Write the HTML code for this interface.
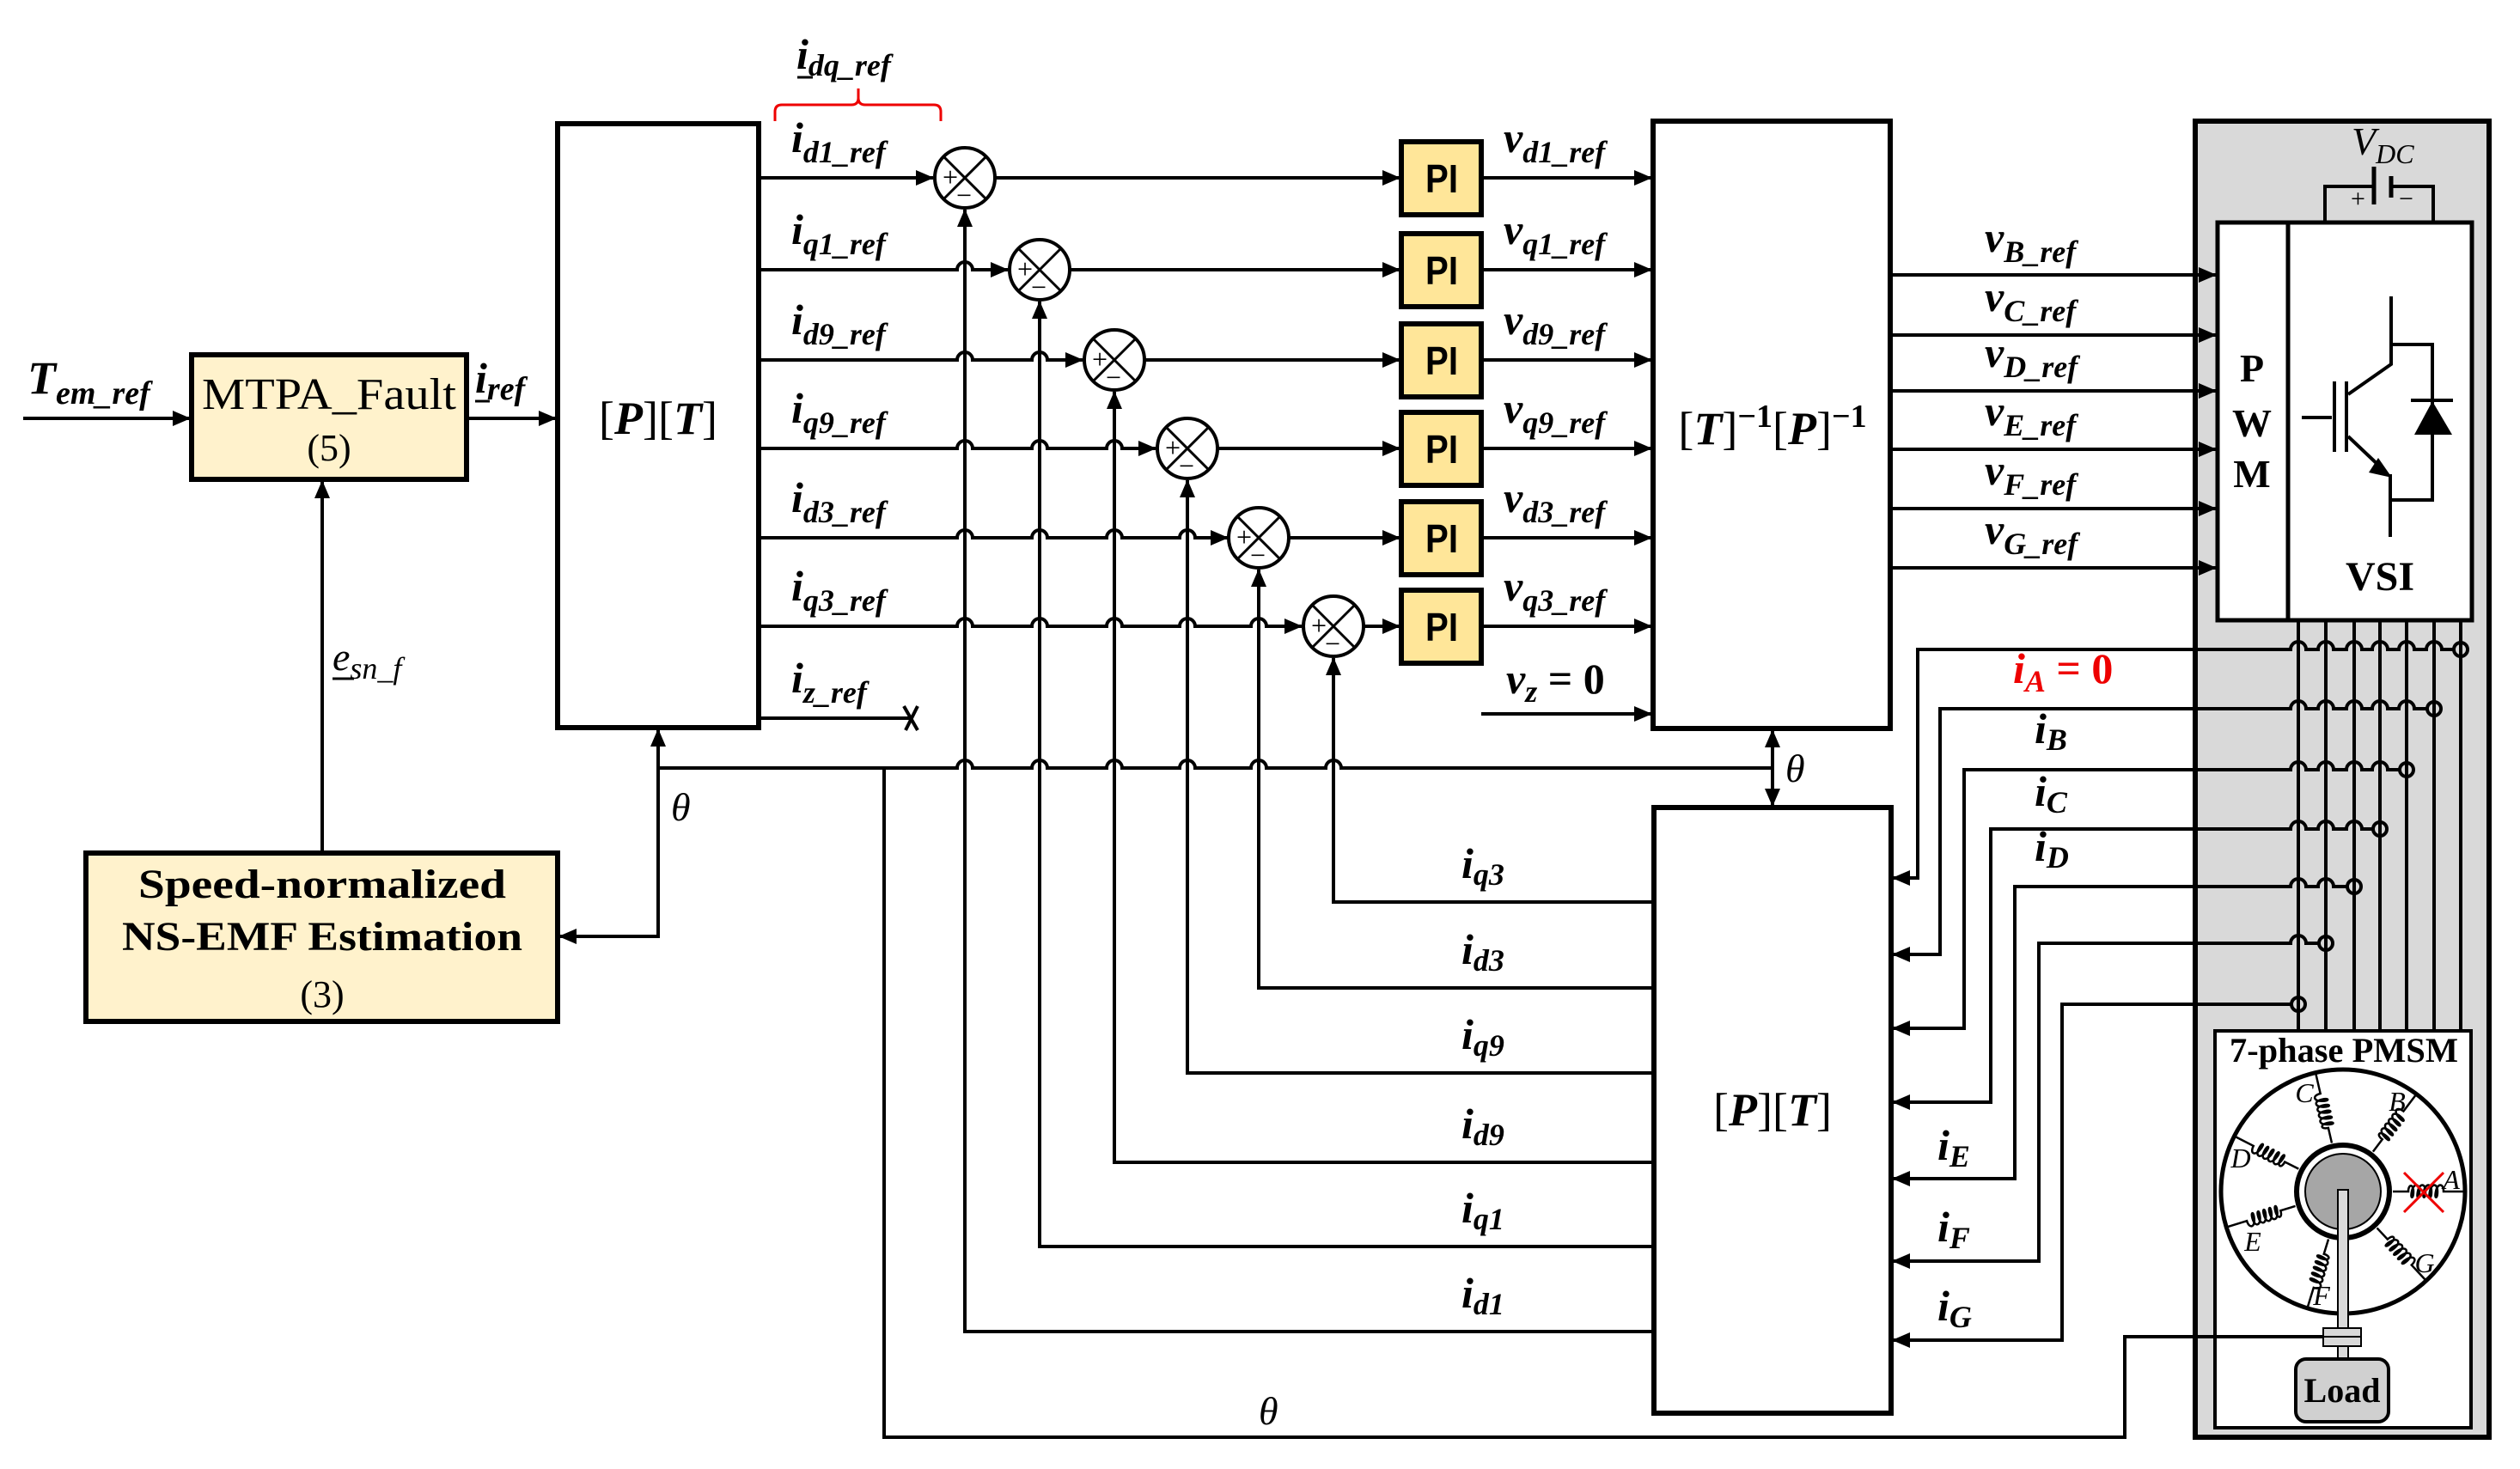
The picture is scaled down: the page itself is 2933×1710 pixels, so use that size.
<!DOCTYPE html>
<html><head><meta charset="utf-8"><style>
html,body{margin:0;padding:0;background:#fff}
svg{display:block}
.b{font-family:"Liberation Serif",serif;font-weight:bold;font-style:italic}
.r{font-family:"Liberation Serif",serif}
.ln{stroke:#000;stroke-width:4;fill:none}
.bx{stroke:#000;stroke-width:6}
.s{font-size:36px}
</style></head><body>
<svg width="2933" height="1710" viewBox="0 0 2933 1710" xmlns="http://www.w3.org/2000/svg">
<defs>
<marker id="a" markerUnits="userSpaceOnUse" markerWidth="22" markerHeight="18" refX="20" refY="9" orient="auto"><path d="M0,0 L21,9 L0,18z" fill="#000"/></marker>
<g id="coil"><path d="M58,0 H76 c0,-9 6,-9 6,0 c0,9 -4,9 -2,0 c2,-10 9,-10 9,0 c0,9 -4,9 -2,0 c2,-10 9,-10 9,0 c0,9 -4,9 -2,0 c2,-10 9,-10 9,0 c0,9 -4,9 -2,0 c2,-10 9,-10 9,0 c0,9 -4,9 -2,0 c2,-10 9,-10 9,0 H142" fill="none" stroke="#000" stroke-width="2.5"/></g>
<g id="sum"><circle r="35" fill="#fff" stroke="#000" stroke-width="4"/><path d="M-25,-25 L25,25 M25,-25 L-25,25" stroke="#000" stroke-width="3"/><text x="-26" y="10" class="r" font-size="32">+</text><text x="-10" y="31" class="r" font-size="32">−</text></g>
</defs>

<rect x="2555" y="141" width="342" height="1532" fill="#d9d9d9" stroke="#000" stroke-width="6"/>

<rect x="223" y="413" width="320" height="145" fill="#fff2cc" class="bx"/>
<text x="383" y="476" class="r" font-size="52" text-anchor="middle" textLength="296" lengthAdjust="spacingAndGlyphs">MTPA_Fault</text>
<text x="383" y="536" class="r" font-size="44" text-anchor="middle">(5)</text>
<rect x="100" y="993" width="549" height="196" fill="#fff2cc" class="bx"/>
<text x="375" y="1045" class="r" font-weight="bold" font-size="48" text-anchor="middle" textLength="428" lengthAdjust="spacingAndGlyphs">Speed-normalized</text>
<text x="375" y="1106" class="r" font-weight="bold" font-size="48" text-anchor="middle" textLength="466" lengthAdjust="spacingAndGlyphs">NS-EMF Estimation</text>
<text x="375" y="1172" class="r" font-size="44" text-anchor="middle">(3)</text>

<rect x="649" y="144" width="234" height="703" fill="#fff" class="bx"/>
<text x="766" y="505" class="r" font-size="54" text-anchor="middle">[<tspan class="b">P</tspan>][<tspan class="b">T</tspan>]</text>

<rect x="1924" y="141" width="276" height="707" fill="#fff" class="bx"/>
<text x="2063" y="517" class="r" font-size="54" text-anchor="middle">[<tspan class="b">T</tspan>]<tspan dy="-20" font-size="38" font-weight="bold">−1</tspan><tspan dy="20">[</tspan><tspan class="b">P</tspan>]<tspan dy="-20" font-size="38" font-weight="bold">−1</tspan></text>

<rect x="1925" y="940" width="276" height="705" fill="#fff" class="bx"/>
<text x="2063" y="1310" class="r" font-size="54" text-anchor="middle">[<tspan class="b">P</tspan>][<tspan class="b">T</tspan>]</text>

<path class="ln" d="M27,487 H221" marker-end="url(#a)"/>
<text x="32" y="458" class="b" font-size="54">T<tspan dy="12" font-size="38">em_ref</tspan></text>
<path class="ln" d="M543,487 H647" marker-end="url(#a)"/>
<text x="553" y="457" class="b" font-size="50">i<tspan dy="8" font-size="38">ref</tspan></text>
<path d="M553,467 H570" stroke="#000" stroke-width="3"/>
<path class="ln" d="M375,993 V560" marker-end="url(#a)"/>
<text x="387" y="780" class="r" font-style="italic" font-size="46">e<tspan dy="10" font-size="36">sn_f</tspan></text>
<path d="M387,790 H412" stroke="#000" stroke-width="3"/>
<path class="ln" d="M766,894 V1090 H651" marker-end="url(#a)"/>
<path class="ln" d="M766,1000 V849" marker-end="url(#a)"/>
<text x="781" y="955" class="r" font-style="italic" font-size="46">θ</text>

<path d="M902,141 V130 Q902,122 910,122 H991 Q999,122 999,114 V103 M999,114 Q999,122 1007,122 H1087 Q1095,122 1095,130 V141" fill="none" stroke="#e00" stroke-width="3"/>
<text x="927" y="80" class="b" font-size="50">i<tspan dy="8" font-size="36">dq_ref</tspan></text>
<path d="M928,90 H946" stroke="#000" stroke-width="3"/>

<path class="ln" d="M883,207 H1086" marker-end="url(#a)"/>
<path class="ln" d="M883,314 H1114 a9,9 0 0 1 18,0 H1173" marker-end="url(#a)"/>
<path class="ln" d="M883,419 H1114 a9,9 0 0 1 18,0 H1201 a9,9 0 0 1 18,0 H1260" marker-end="url(#a)"/>
<path class="ln" d="M883,522 H1114 a9,9 0 0 1 18,0 H1201 a9,9 0 0 1 18,0 H1288 a9,9 0 0 1 18,0 H1345" marker-end="url(#a)"/>
<path class="ln" d="M883,626 H1114 a9,9 0 0 1 18,0 H1201 a9,9 0 0 1 18,0 H1288 a9,9 0 0 1 18,0 H1373 a9,9 0 0 1 18,0 H1429" marker-end="url(#a)"/>
<path class="ln" d="M883,729 H1114 a9,9 0 0 1 18,0 H1201 a9,9 0 0 1 18,0 H1288 a9,9 0 0 1 18,0 H1373 a9,9 0 0 1 18,0 H1456 a9,9 0 0 1 18,0 H1515" marker-end="url(#a)"/>
<path class="ln" d="M883,836 H1061 M1052,822 L1068,850 M1068,822 L1054,850"/>
<g class="b" font-size="50">
<text x="921" y="177">i<tspan dy="12" class="s">d1_ref</tspan></text>
<text x="921" y="284">i<tspan dy="12" class="s">q1_ref</tspan></text>
<text x="921" y="389">i<tspan dy="12" class="s">d9_ref</tspan></text>
<text x="921" y="492">i<tspan dy="12" class="s">q9_ref</tspan></text>
<text x="921" y="596">i<tspan dy="12" class="s">d3_ref</tspan></text>
<text x="921" y="699">i<tspan dy="12" class="s">q3_ref</tspan></text>
<text x="921" y="806">i<tspan dy="12" class="s">z_ref</tspan></text>
</g>

<path class="ln" d="M1925,1550 H1123 V244" marker-end="url(#a)"/>
<path class="ln" d="M1925,1451 H1210 V351" marker-end="url(#a)"/>
<path class="ln" d="M1925,1353 H1297 V456" marker-end="url(#a)"/>
<path class="ln" d="M1925,1249 H1382 V559" marker-end="url(#a)"/>
<path class="ln" d="M1925,1150 H1465 V663" marker-end="url(#a)"/>
<path class="ln" d="M1925,1050 H1552 V766" marker-end="url(#a)"/>
<g class="b" font-size="50">
<text x="1701" y="1022">i<tspan dy="8" class="s">q3</tspan></text>
<text x="1701" y="1122">i<tspan dy="8" class="s">d3</tspan></text>
<text x="1701" y="1221">i<tspan dy="8" class="s">q9</tspan></text>
<text x="1701" y="1325">i<tspan dy="8" class="s">d9</tspan></text>
<text x="1701" y="1423">i<tspan dy="8" class="s">q1</tspan></text>
<text x="1701" y="1522">i<tspan dy="8" class="s">d1</tspan></text>
</g>

<path class="ln" d="M766,894 H1114 a9,9 0 0 1 18,0 H1201 a9,9 0 0 1 18,0 H1288 a9,9 0 0 1 18,0 H1373 a9,9 0 0 1 18,0 H1456 a9,9 0 0 1 18,0 H1543 a9,9 0 0 1 18,0 H2063"/>
<path class="ln" d="M2063,870 V850" marker-end="url(#a)"/>
<path class="ln" d="M2063,880 V938" marker-end="url(#a)"/>
<path class="ln" d="M2063,852 V936"/>
<text x="2078" y="910" class="r" font-style="italic" font-size="46">θ</text>
<text x="1465" y="1658" class="r" font-style="italic" font-size="46">θ</text>

<use href="#sum" x="1123" y="207"/>
<use href="#sum" x="1210" y="314"/>
<use href="#sum" x="1297" y="419"/>
<use href="#sum" x="1382" y="522"/>
<use href="#sum" x="1465" y="626"/>
<use href="#sum" x="1552" y="729"/>
<path class="ln" d="M1158,207 H1629" marker-end="url(#a)"/>
<path class="ln" d="M1245,314 H1629" marker-end="url(#a)"/>
<path class="ln" d="M1332,419 H1629" marker-end="url(#a)"/>
<path class="ln" d="M1417,522 H1629" marker-end="url(#a)"/>
<path class="ln" d="M1500,626 H1629" marker-end="url(#a)"/>
<path class="ln" d="M1587,729 H1629" marker-end="url(#a)"/>

<g fill="#ffe699" stroke="#000" stroke-width="6">
<rect x="1631" y="165" width="93" height="85"/>
<rect x="1631" y="272" width="93" height="85"/>
<rect x="1631" y="377" width="93" height="85"/>
<rect x="1631" y="480" width="93" height="85"/>
<rect x="1631" y="584" width="93" height="85"/>
<rect x="1631" y="687" width="93" height="85"/>
</g>
<g font-family="Liberation Sans,sans-serif" font-weight="bold" font-size="46" text-anchor="middle">
<text x="1678" y="224" textLength="38" lengthAdjust="spacingAndGlyphs">PI</text>
<text x="1678" y="331" textLength="38" lengthAdjust="spacingAndGlyphs">PI</text>
<text x="1678" y="436" textLength="38" lengthAdjust="spacingAndGlyphs">PI</text>
<text x="1678" y="539" textLength="38" lengthAdjust="spacingAndGlyphs">PI</text>
<text x="1678" y="643" textLength="38" lengthAdjust="spacingAndGlyphs">PI</text>
<text x="1678" y="746" textLength="38" lengthAdjust="spacingAndGlyphs">PI</text>
</g>
<path class="ln" d="M1724,207 H1922" marker-end="url(#a)"/>
<path class="ln" d="M1724,314 H1922" marker-end="url(#a)"/>
<path class="ln" d="M1724,419 H1922" marker-end="url(#a)"/>
<path class="ln" d="M1724,522 H1922" marker-end="url(#a)"/>
<path class="ln" d="M1724,626 H1922" marker-end="url(#a)"/>
<path class="ln" d="M1724,729 H1922" marker-end="url(#a)"/>
<path class="ln" d="M1724,831 H1922" marker-end="url(#a)"/>
<g class="b" font-size="50">
<text x="1750" y="177">v<tspan dy="12" class="s">d1_ref</tspan></text>
<text x="1750" y="284">v<tspan dy="12" class="s">q1_ref</tspan></text>
<text x="1750" y="389">v<tspan dy="12" class="s">d9_ref</tspan></text>
<text x="1750" y="492">v<tspan dy="12" class="s">q9_ref</tspan></text>
<text x="1750" y="596">v<tspan dy="12" class="s">d3_ref</tspan></text>
<text x="1750" y="699">v<tspan dy="12" class="s">q3_ref</tspan></text>
<text x="1753" y="807">v<tspan dy="10" class="s">z</tspan><tspan dy="-10" font-style="normal"> = 0</tspan></text>
<text x="2310" y="293">v<tspan dy="12" class="s">B_ref</tspan></text>
<text x="2310" y="362">v<tspan dy="12" class="s">C_ref</tspan></text>
<text x="2310" y="427">v<tspan dy="12" class="s">D_ref</tspan></text>
<text x="2310" y="495">v<tspan dy="12" class="s">E_ref</tspan></text>
<text x="2310" y="564">v<tspan dy="12" class="s">F_ref</tspan></text>
<text x="2310" y="633">v<tspan dy="12" class="s">G_ref</tspan></text>
</g>

<path class="ln" d="M2201,320 H2579" marker-end="url(#a)"/>
<path class="ln" d="M2201,390 H2579" marker-end="url(#a)"/>
<path class="ln" d="M2201,455 H2579" marker-end="url(#a)"/>
<path class="ln" d="M2201,523 H2579" marker-end="url(#a)"/>
<path class="ln" d="M2201,592 H2579" marker-end="url(#a)"/>
<path class="ln" d="M2201,661 H2579" marker-end="url(#a)"/>

<rect x="2581" y="259" width="296" height="463" fill="#fff" stroke="#000" stroke-width="5"/>
<path d="M2663,259 V722" stroke="#000" stroke-width="5"/>
<g class="r" font-weight="bold" font-size="46" text-anchor="middle">
<text x="2621" y="444">P</text><text x="2621" y="508">W</text><text x="2621" y="567">M</text>
<text x="2770" y="687" font-size="48">VSI</text>
</g>
<g stroke="#000" stroke-width="4" fill="none">
<path d="M2783,345 V424 L2733,459 M2679,486 H2714 M2717,444 V526 M2731,444 V526 M2733,508 L2772,545 M2782,552 V625 M2783,401 H2831 V582 H2782 M2806,466 H2855"/>
</g>
<path d="M2768,533 L2784,556 L2757,550z" fill="#000"/>
<path d="M2831,467 L2810,506 L2854,506z" fill="#000"/>
<path d="M2706,259 V217 H2763 M2783,217 H2832 V259" stroke="#000" stroke-width="4" fill="none"/>
<path d="M2763,194 V238" stroke="#000" stroke-width="5"/>
<path d="M2783,205 V230" stroke="#000" stroke-width="5"/>
<text x="2736" y="241" class="r" font-size="30">+</text>
<text x="2792" y="241" class="r" font-size="30">−</text>
<text x="2737" y="180" class="r" font-style="italic" font-size="46">V<tspan dy="10" font-size="32">DC</tspan></text>

<path d="M2675,722 V1200 M2707,722 V1200 M2740,722 V1200 M2770,722 V1200 M2801,722 V1200 M2833,722 V1200 M2864,722 V1200" stroke="#000" stroke-width="4"/>

<g class="ln">
<path d="M2856,756 H2842 a9,9 0 0 0 -18,0 H2810 a9,9 0 0 0 -18,0 H2779 a9,9 0 0 0 -18,0 H2749 a9,9 0 0 0 -18,0 H2716 a9,9 0 0 0 -18,0 H2684 a9,9 0 0 0 -18,0 H2232 V1022 H2203" marker-end="url(#a)"/>
<path d="M2825,825 H2810 a9,9 0 0 0 -18,0 H2779 a9,9 0 0 0 -18,0 H2749 a9,9 0 0 0 -18,0 H2716 a9,9 0 0 0 -18,0 H2684 a9,9 0 0 0 -18,0 H2258 V1111 H2203" marker-end="url(#a)"/>
<path d="M2793,896 H2779 a9,9 0 0 0 -18,0 H2749 a9,9 0 0 0 -18,0 H2716 a9,9 0 0 0 -18,0 H2684 a9,9 0 0 0 -18,0 H2286 V1197 H2203" marker-end="url(#a)"/>
<path d="M2762,965 H2749 a9,9 0 0 0 -18,0 H2716 a9,9 0 0 0 -18,0 H2684 a9,9 0 0 0 -18,0 H2317 V1283 H2203" marker-end="url(#a)"/>
<path d="M2732,1032 H2716 a9,9 0 0 0 -18,0 H2684 a9,9 0 0 0 -18,0 H2345 V1372 H2203" marker-end="url(#a)"/>
<path d="M2699,1098 H2684 a9,9 0 0 0 -18,0 H2373 V1468 H2203" marker-end="url(#a)"/>
<path d="M2667,1169 H2400 V1560 H2203" marker-end="url(#a)"/>
</g>
<g fill="none" stroke="#000" stroke-width="4">
<circle cx="2864" cy="756" r="8"/><circle cx="2833" cy="825" r="8"/><circle cx="2801" cy="896" r="8"/><circle cx="2770" cy="965" r="8"/><circle cx="2740" cy="1032" r="8"/><circle cx="2707" cy="1098" r="8"/><circle cx="2675" cy="1169" r="8"/>
</g>
<g class="b" font-size="50">
<text x="2343" y="795" fill="#e00">i<tspan dy="10" class="s">A</tspan><tspan dy="-10" font-style="normal"> = 0</tspan></text>
<text x="2368" y="865">i<tspan dy="8" class="s">B</tspan></text>
<text x="2368" y="938">i<tspan dy="8" class="s">C</tspan></text>
<text x="2368" y="1002">i<tspan dy="8" class="s">D</tspan></text>
<text x="2255" y="1350">i<tspan dy="8" class="s">E</tspan></text>
<text x="2255" y="1445">i<tspan dy="8" class="s">F</tspan></text>
<text x="2255" y="1537">i<tspan dy="8" class="s">G</tspan></text>
</g>

<rect x="2578" y="1200" width="298" height="462" fill="#fff" stroke="#000" stroke-width="4"/>
<text x="2728" y="1236" class="r" font-weight="bold" font-size="40" text-anchor="middle" textLength="266" lengthAdjust="spacingAndGlyphs">7-phase PMSM</text>
<circle cx="2727" cy="1387" r="142" fill="#fff" stroke="#000" stroke-width="5"/>
<g transform="translate(2727,1387)">
<use href="#coil" transform="rotate(0)"/>
<use href="#coil" transform="rotate(-53)"/>
<use href="#coil" transform="rotate(-103)"/>
<use href="#coil" transform="rotate(-153)"/>
<use href="#coil" transform="rotate(163)"/>
<use href="#coil" transform="rotate(107)"/>
<use href="#coil" transform="rotate(47)"/>
</g>
<circle cx="2727" cy="1387" r="54" fill="#fff" stroke="#000" stroke-width="6"/>
<circle cx="2727" cy="1387" r="44" fill="#a6a6a6" stroke="#000" stroke-width="2"/>
<g class="r" font-style="italic" font-size="32" text-anchor="middle">
<text x="2853" y="1384">A</text><text x="2790" y="1293">B</text><text x="2682" y="1283">C</text><text x="2608" y="1359">D</text><text x="2622" y="1456">E</text><text x="2702" y="1519">F</text><text x="2822" y="1481">G</text>
</g>
<path d="M2798,1365 L2844,1411 M2844,1365 L2798,1411" stroke="#e00" stroke-width="3"/>
<path class="ln" d="M1029,894 V1673 H2473 V1556 H2704"/>
<rect x="2721" y="1385" width="12" height="197" fill="#d9d9d9" stroke="#000" stroke-width="2"/>
<rect x="2704" y="1546" width="44" height="21" fill="#d9d9d9" stroke="#000" stroke-width="2"/>
<path d="M2704,1556 H2748" stroke="#000" stroke-width="2"/>
<rect x="2672" y="1582" width="108" height="73" rx="12" fill="#d0d0d0" stroke="#000" stroke-width="4"/>
<text x="2726" y="1632" class="r" font-weight="bold" font-size="40" text-anchor="middle">Load</text>
</svg>
</body></html>
